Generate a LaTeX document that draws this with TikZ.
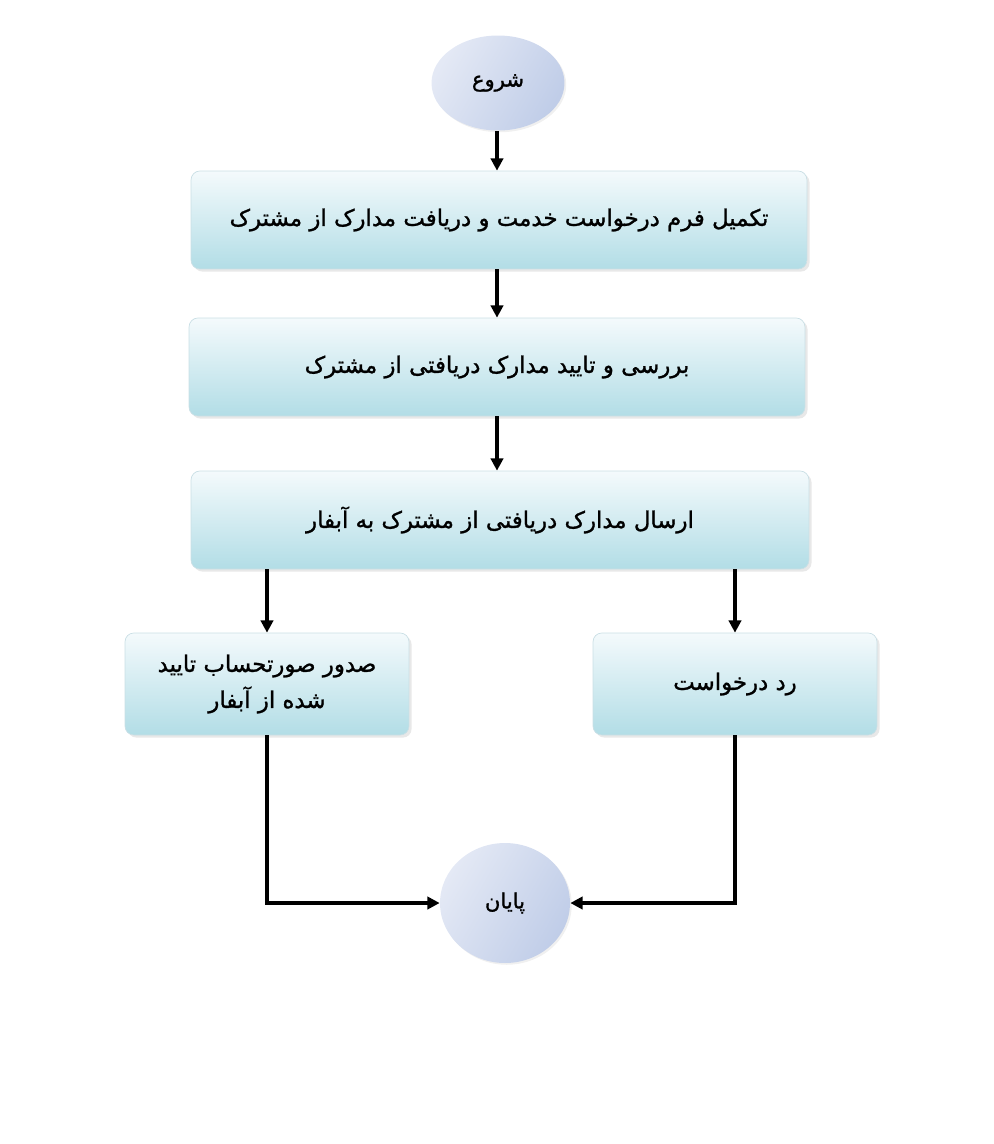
\documentclass[tikz,border=0pt]{standalone}
\usepackage{fontspec}
\usepackage{tikz}
\usetikzlibrary{positioning, calc, arrows.meta, shapes.geometric, shadows}
\TeXXeTstate=1
\newfontfamily\arabicfont[Script=Arabic, FakeBold=1.2]{DejaVu Sans}

\definecolor{boxTop}{HTML}{F4FAFC}
\definecolor{boxBottom}{HTML}{B2DDE6}
\definecolor{boxEdge}{HTML}{CADFE5}
\definecolor{ellLight}{HTML}{E4E9F5}
\definecolor{ellDark}{HTML}{C0CDE8}

\tikzset{
    procbox/.style={rectangle, rounded corners=5pt, draw=boxEdge, line width=0.4pt,
        top color=boxTop, bottom color=boxBottom,
        drop shadow={opacity=0.18, shadow xshift=1.5pt, shadow yshift=-1.5pt},
        inner sep=0pt, align=center,
        font=\arabicfont\fontsize{13}{20.5}\selectfont},
    terminal/.style={ellipse, inner sep=0pt, draw=none,
        left color=ellLight, right color=ellDark, shading angle=60,
        drop shadow={opacity=0.12, shadow xshift=1pt, shadow yshift=-1pt},
        font=\arabicfont\fontsize{12}{14}\selectfont},
    flow/.style={-{Triangle[length=7pt, width=7pt]}, line width=1.8pt}
}

\begin{document}
\begin{tikzpicture}[x=0.02cm, y=-0.02cm]

    % --- Page frame (pixel grid of the reference) ---
    \useasboundingbox (0,0) rectangle (994,1144);

    % --- Start and end ---
    \node[terminal, minimum width=2.66cm, minimum height=1.9cm] (start) at (498,83)
        {\beginR شروع\endR};
    \node[terminal, minimum width=2.6cm, minimum height=2.4cm] (finish) at (505,903)
        {\beginR پایان\endR};

    % --- Main column of steps ---
    \node[procbox, minimum width=12.32cm, minimum height=1.96cm] (fill) at (499,220)
        {\beginR تکمیل فرم درخواست خدمت و دریافت مدارک از مشترک\endR};
    \node[procbox, minimum width=12.32cm, minimum height=1.96cm] (check) at (497,367)
        {\beginR بررسی و تایید مدارک دریافتی از مشترک\endR};
    \node[procbox, minimum width=12.36cm, minimum height=1.96cm] (send) at (500,520)
        {\beginR ارسال مدارک دریافتی از مشترک به آبفار\endR};

    % --- Two outcomes ---
    \node[procbox, minimum width=5.68cm, minimum height=2.04cm] (invoice) at (267,684)
        {\beginR صدور صورتحساب تایید\endR\\\beginR شده از آبفار\endR};
    \node[procbox, minimum width=5.68cm, minimum height=2.04cm] (reject) at (735,684)
        {\beginR رد درخواست\endR};

    % --- Arrows down the column ---
    \coordinate (spine) at (497,0);
    \draw[flow] (spine |- start.south) -- (spine |- fill.north);
    \draw[flow] (spine |- fill.south) -- (spine |- check.north);
    \draw[flow] (spine |- check.south) -- (spine |- send.north);

    % --- Split to the outcomes ---
    \draw[flow] (invoice.north |- send.south) -- (invoice.north);
    \draw[flow] (reject.north |- send.south) -- (reject.north);

    % --- Back to the end ---
    \draw[flow] (invoice.south) |- (finish.west);
    \draw[flow] (reject.south) |- (finish.east);

\end{tikzpicture}
\end{document}
